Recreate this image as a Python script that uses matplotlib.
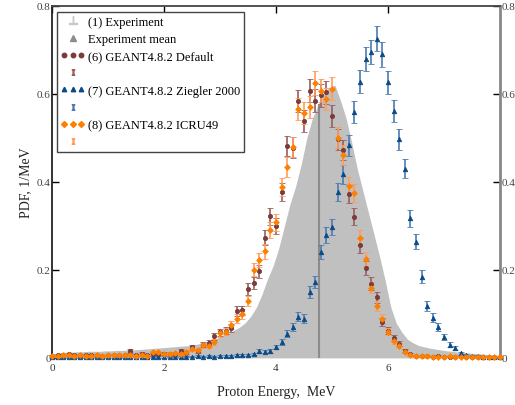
import numpy as np
from matplotlib import pyplot as plt
from matplotlib.lines import Line2D
from matplotlib.legend_handler import HandlerLine2D
from matplotlib.ticker import FuncFormatter

plt.rcParams['font.family'] = 'Liberation Serif'
plt.rcParams['mathtext.fontset'] = 'stix'

# Experiment spectrum, 0.1 MeV bins from 0 to 8 MeV (values at bin centres)
exp_centers = np.arange(80) * 0.1 + 0.05
exp_pdf = [
    0.010, 0.012, 0.013, 0.013, 0.014, 0.014, 0.015, 0.015, 0.015, 0.016,
    0.016, 0.017, 0.017, 0.018, 0.018, 0.019, 0.020, 0.021, 0.022, 0.023,
    0.024, 0.025, 0.026, 0.027, 0.028, 0.030, 0.033, 0.036, 0.040, 0.045,
    0.050, 0.056, 0.063, 0.070, 0.080, 0.095, 0.115, 0.145, 0.180, 0.210,
    0.250, 0.300, 0.350, 0.390, 0.440, 0.500, 0.545, 0.575, 0.600, 0.615,
    0.620, 0.585, 0.545, 0.490, 0.430, 0.380, 0.330, 0.280, 0.230, 0.175,
    0.115, 0.078, 0.058, 0.042, 0.034, 0.028, 0.025, 0.022, 0.020, 0.018,
    0.016, 0.015, 0.013, 0.012, 0.011, 0.010, 0.009, 0.008, 0.007, 0.006,
]
exp_mean = 4.76

# Simulated spectra, one value every 0.1 MeV from 0 to 8 MeV
sim_energy = np.arange(81) * 0.1

g4_default = [
    0.005, 0.006, 0.007, 0.008, 0.006, 0.007, 0.006, 0.007, 0.006, 0.005,
    0.006, 0.007, 0.006, 0.006, 0.016, 0.006, 0.010, 0.007, 0.008, 0.009,
    0.010, 0.010, 0.009, 0.015, 0.012, 0.024, 0.016, 0.030, 0.035, 0.049,
    0.058, 0.062, 0.068, 0.107, 0.108, 0.156, 0.170, 0.197, 0.273, 0.322,
    0.300, 0.377, 0.481, 0.478, 0.584, 0.538, 0.607, 0.585, 0.597, 0.604,
    0.550, 0.497, 0.472, 0.372, 0.321, 0.256, 0.204, 0.169, 0.138, 0.081,
    0.062, 0.045, 0.032, 0.015, 0.008, 0.005, 0.004, 0.004, 0.003, 0.004,
    0.003, 0.003, 0.003, 0.004, 0.003, 0.003, 0.002, 0.003, 0.003, 0.002,
    0.002,
]

g4_ziegler = [
    0.001, 0.001, 0.002, 0.001, 0.002, 0.001, 0.002, 0.002, 0.001, 0.002,
    0.002, 0.002, 0.001, 0.002, 0.002, 0.003, 0.002, 0.002, 0.003, 0.002,
    0.002, 0.003, 0.003, 0.002, 0.003, 0.003, 0.004, 0.003, 0.004, 0.003,
    0.004, 0.004, 0.005, 0.006, 0.007, 0.007, 0.009, 0.016, 0.014, 0.016,
    0.025, 0.036, 0.055, 0.071, 0.093, 0.089, 0.150, 0.173, 0.241, 0.280,
    0.298, 0.378, 0.417, 0.483, 0.558, 0.628, 0.680, 0.695, 0.725, 0.690,
    0.626, 0.562, 0.497, 0.430, 0.317, 0.264, 0.185, 0.118, 0.091, 0.070,
    0.048, 0.030, 0.023, 0.011, 0.007, 0.005, 0.004, 0.003, 0.003, 0.002,
    0.002,
]

g4_icru49 = [
    0.005, 0.004, 0.006, 0.006, 0.005, 0.006, 0.005, 0.005, 0.006, 0.005,
    0.006, 0.006, 0.007, 0.006, 0.006, 0.005, 0.007, 0.005, 0.013, 0.013,
    0.009, 0.010, 0.011, 0.010, 0.014, 0.020, 0.018, 0.029, 0.028, 0.036,
    0.056, 0.060, 0.075, 0.089, 0.100, 0.129, 0.200, 0.222, 0.242, 0.290,
    0.308, 0.388, 0.434, 0.479, 0.565, 0.556, 0.571, 0.625, 0.607, 0.588,
    0.612, 0.500, 0.462, 0.391, 0.374, 0.273, 0.225, 0.160, 0.118, 0.089,
    0.060, 0.038, 0.028, 0.014, 0.007, 0.005, 0.004, 0.004, 0.003, 0.003,
    0.003, 0.004, 0.003, 0.003, 0.003, 0.002, 0.003, 0.003, 0.002, 0.003,
    0.003,
]

# statistical error per point, from the number of simulated events in a 0.1 MeV bin
events_per_bin = 890.0


def stat_err(pdf):
    return np.sqrt(np.asarray(pdf) / events_per_bin)


fig = plt.figure(figsize=(5.15, 4.06), dpi=100)
ax = fig.add_axes([0.101, 0.116, 0.870, 0.867])

# Experiment histogram and its mean
xs = np.concatenate([[0.0], exp_centers, [8.0]])
ys = np.concatenate([[exp_pdf[0]], exp_pdf, [exp_pdf[-1]]])
ax.fill_between(xs, 0, ys, color='#c0c0c0', lw=0, zorder=1)
ax.vlines(exp_mean, 0, np.interp(exp_mean, exp_centers, exp_pdf),
          color='#8c8c8c', lw=1.5, zorder=2)

series = [
    (g4_default, 'o', 3.0, '#7a3b3b', '#9a5e5e'),
    (g4_ziegler, '^', 3.2, '#0b4a86', '#4a7bb0'),
    (g4_icru49, 'D', 2.9, '#ff8000', '#ff9c5a'),
]
for vals, mk, ms, col, ecol in series:
    ax.errorbar(sim_energy, vals, yerr=stat_err(vals), fmt=mk, ms=ms,
                color=col, mec=col, mew=0.6, ecolor=ecol, elinewidth=1.2,
                capsize=2.2, capthick=1.0, clip_on=False, zorder=3)

ax.set_xlim(0, 8)
ax.set_ylim(0, 0.8)
ax.set_xticks([0, 2, 4, 6])
ax.set_yticks([0, 0.2, 0.4, 0.6, 0.8])
ax.yaxis.set_major_formatter(FuncFormatter(lambda v, p: '%g' % v))

ax.tick_params(axis='x', bottom=False, top=True, labelbottom=True,
               direction='in', length=5, width=1, labelsize=8,
               labelcolor='#333333', pad=4)
ax.tick_params(axis='y', left=True, right=True, labelleft=True,
               labelright=True, direction='in', length=5, width=1,
               labelsize=8, labelcolor='#444444', pad=1)

ax.spines['bottom'].set_visible(False)
ax.spines['left'].set_color('#222222')
ax.spines['left'].set_linewidth(1.3)
ax.spines['top'].set_color('#444444')
ax.spines['top'].set_linewidth(1.3)
ax.spines['right'].set_color('#888888')
ax.spines['right'].set_linewidth(2.0)

ax.set_xlabel('Proton Energy,  MeV', fontsize=10, color='#222222', labelpad=9)
ax.set_ylabel('PDF, 1/MeV', fontsize=10, color='#222222', labelpad=3)

# legend: experiment entries, then each simulation with its error bar symbol
h_exp = Line2D([], [], ls='none', marker=r'$\bot$', ms=6, color='#c8c8c8')
h_mean = Line2D([], [], ls='none', marker='^', ms=4, color='#8c8c8c')
h_def = Line2D([], [], ls='none', marker='o', ms=3.2, color='#7a3b3b')
h_def_e = Line2D([], [], ls='none', marker=r'$\mathrm{I}$', ms=4, color='#9a5e5e')
h_zie = Line2D([], [], ls='none', marker='^', ms=3.2, color='#0b4a86')
h_zie_e = Line2D([], [], ls='none', marker=r'$\mathrm{I}$', ms=4, color='#4a7bb0')
h_icr = Line2D([], [], ls='none', marker='D', ms=3.0, color='#ff8000')
h_icr_e = Line2D([], [], ls='none', marker=r'$\mathrm{I}$', ms=4, color='#ff9c5a')

one = HandlerLine2D(numpoints=1)
three = HandlerLine2D(numpoints=3)
handles = [h_exp, h_mean, h_def, h_def_e, h_zie, h_zie_e, h_icr, h_icr_e]
labels = ['(1) Experiment', 'Experiment mean', '(6) GEANT4.8.2 Default', ' ',
          '(7) GEANT4.8.2 Ziegler 2000', ' ', '(8) GEANT4.8.2 ICRU49', ' ']
hmap = {h_exp: one, h_mean: one, h_def_e: one, h_zie_e: one, h_icr_e: one,
        h_def: three, h_zie: three, h_icr: three}
leg = ax.legend(handles, labels, handler_map=hmap, loc='upper left',
                bbox_to_anchor=(0.011, 0.983), borderaxespad=0,
                fontsize=9, labelspacing=0.42, handlelength=1.9,
                handletextpad=0.3, borderpad=0.3, frameon=True,
                fancybox=False, edgecolor='#444444', framealpha=1)
leg.get_frame().set_linewidth(1.0)
leg.set_zorder(5)

fig.savefig('out.png', dpi=100)
